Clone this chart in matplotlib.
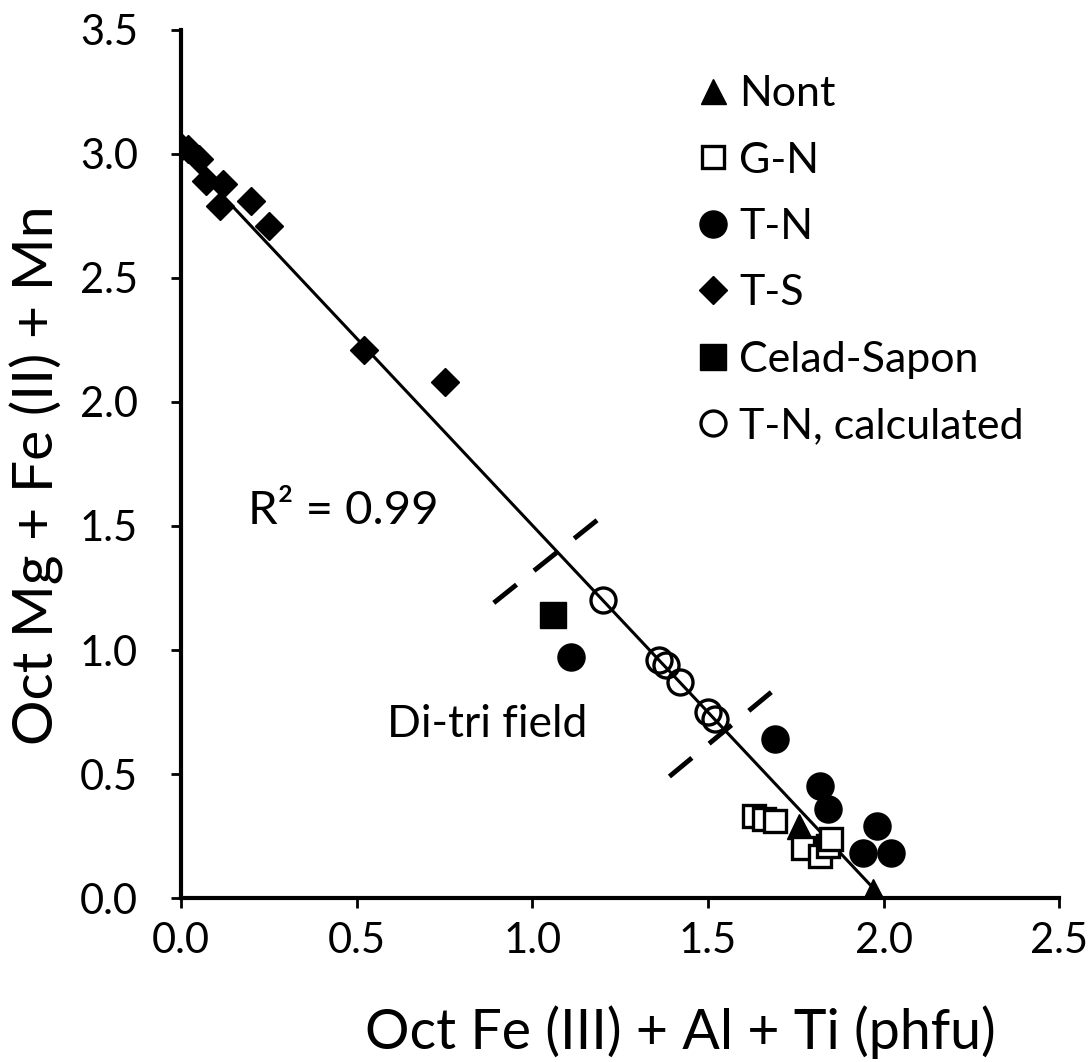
import numpy as np
import matplotlib
matplotlib.use('Agg')
import matplotlib.pyplot as plt

plt.rcParams['font.family'] = ['Lato', 'DejaVu Sans']

# octahedral Fe(III)+Al+Ti (x) vs Mg+Fe(II)+Mn (y), phfu
nont_x = [1.97, 1.76]
nont_y = [0.03, 0.29]

gn_x = [1.63, 1.66, 1.69, 1.77, 1.82, 1.84, 1.85]
gn_y = [0.33, 0.32, 0.31, 0.20, 0.17, 0.21, 0.24]

tn_x = [1.11, 1.69, 1.82, 1.84, 1.98, 1.94, 2.02]
tn_y = [0.97, 0.64, 0.45, 0.36, 0.29, 0.18, 0.18]

ts_x = [0.00, 0.02, 0.05, 0.07, 0.12, 0.11, 0.20, 0.25, 0.52, 0.75]
ts_y = [3.03, 3.02, 2.98, 2.89, 2.88, 2.79, 2.81, 2.71, 2.21, 2.08]

celad_x = [1.06]
celad_y = [1.14]

tn_calc_x = [1.20, 1.36, 1.38, 1.42, 1.50, 1.52]
tn_calc_y = [1.20, 0.96, 0.94, 0.87, 0.75, 0.72]

# di-tri field boundaries (dashed cross lines)
bound_x = [[0.89, 1.19], [1.39, 1.68]]
bound_y = [[1.19, 1.53], [0.49, 0.83]]

all_x = np.concatenate([nont_x, gn_x, tn_x, ts_x, celad_x, tn_calc_x])
all_y = np.concatenate([nont_y, gn_y, tn_y, ts_y, celad_y, tn_calc_y])
slope, icpt = np.polyfit(all_x, all_y, 1)

fig = plt.figure(figsize=(10.91, 10.62), dpi=100)
ax = fig.add_axes([0.166, 0.1544, 0.805, 0.8174])

fx = np.array([0.0, -icpt / slope])
ax.plot(fx, icpt + slope * fx, color='black', lw=2.2, zorder=2)

for bx, by in zip(bound_x, bound_y):
    ax.plot(bx, by, color='black', lw=3.5, ls=(0, (6, 4.6)), zorder=2)

mk = dict(ls='none', color='black', zorder=3)
ax.plot(nont_x, nont_y, marker='^', ms=18, label='Nont', **mk)
ax.plot(gn_x, gn_y, marker='s', ms=16, mfc='white', mew=2.4, label='G-N', **mk)
ax.plot(tn_x, tn_y, marker='o', ms=19.5, label='T-N', **mk)
ax.plot(ts_x, ts_y, marker='D', ms=14, label='T-S', **mk)
ax.plot(celad_x, celad_y, marker='s', ms=19, label='Celad-Sapon', **mk)
ax.plot(tn_calc_x, tn_calc_y, marker='o', ms=18, mfc='none', mew=2.4,
        label='T-N, calculated', **mk)

ax.text(0.19, 1.56, 'R² = 0.99', fontsize=34, va='center')
ax.text(0.585, 0.70, 'Di-tri field', fontsize=32, va='center')

ax.set_xlim(0, 2.5)
ax.set_ylim(0, 3.5)
ax.set_xticks(np.arange(0, 2.51, 0.5))
ax.set_yticks(np.arange(0, 3.51, 0.5))
ax.xaxis.set_major_formatter(plt.FuncFormatter(lambda v, _: f'{v:.1f}'))
ax.yaxis.set_major_formatter(plt.FuncFormatter(lambda v, _: f'{v:.1f}'))
ax.tick_params(labelsize=30, length=7, width=2, direction='out')
ax.tick_params(axis='y', pad=24)
ax.tick_params(axis='x', pad=10)
for s in ['top', 'right']:
    ax.spines[s].set_visible(False)
for s in ['left', 'bottom']:
    ax.spines[s].set_linewidth(3)

ax.set_xlabel('Oct Fe (III) + Al + Ti (phfu)', fontsize=40, va='bottom')
ax.xaxis.set_label_coords(0.568, -0.185)
ax.set_ylabel('Oct Mg + Fe (II) + Mn', fontsize=41)
ax.yaxis.set_label_coords(-0.133, 0.487)

ax.legend(loc='upper left', bbox_to_anchor=(0.589, 0.948), frameon=False,
          fontsize=31, handlelength=0.7, handletextpad=0.25,
          labelspacing=0.66, borderaxespad=0, borderpad=0)

fig.savefig('out.png', dpi=100)
